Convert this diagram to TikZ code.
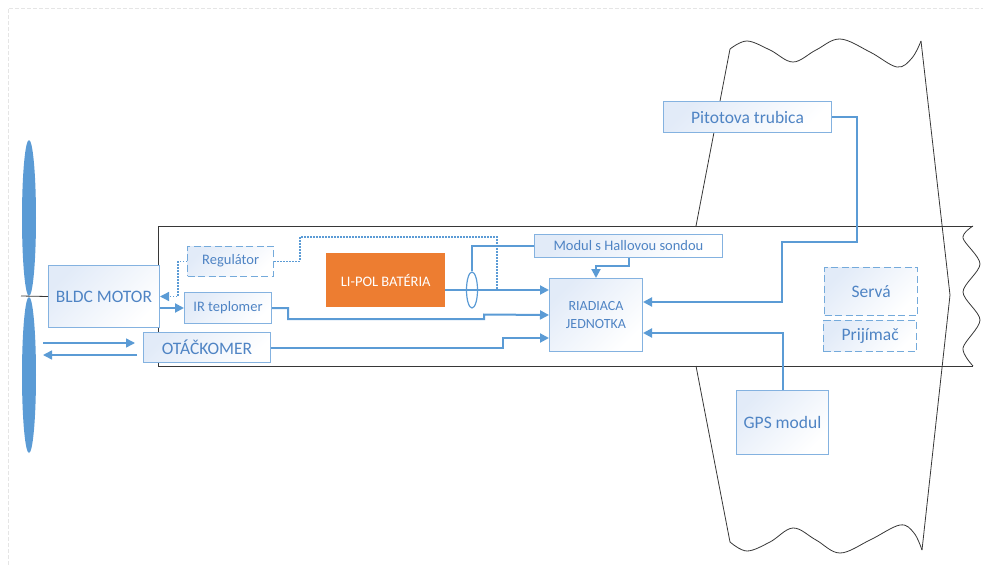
\documentclass[tikz,border=0pt]{standalone}
\usepackage{fontspec}
\setmainfont{Carlito}
\usetikzlibrary{arrows.meta,shapes.geometric}
\definecolor{linkblue}{RGB}{91,155,213}
\definecolor{textblue}{RGB}{79,132,196}
\definecolor{boxline}{RGB}{132,178,224}
\definecolor{boxfill}{RGB}{226,235,248}
\definecolor{batorange}{RGB}{237,125,49}
\definecolor{outline}{RGB}{55,55,55}

\begin{document}
\begin{tikzpicture}[x=1pt,y=-1pt,
    >={Triangle[length=9pt,width=9pt]},
    unit/.style={draw=boxline,line width=1pt,top color=boxfill,bottom color=white,
      shading angle=45,text=textblue,anchor=north west,inner sep=0pt,align=center},
    spare/.style={unit,draw=linkblue!85,dash pattern=on 7pt off 3.5pt,line width=1.3pt},
    big/.style={font=\fontsize{17.5}{20}\selectfont},
    small/.style={font=\fontsize{14.5}{18}\selectfont},
    sig/.style={draw=linkblue,line width=2pt},
    ctrl/.style={draw=linkblue,line width=1.3pt,dash pattern=on 1.5pt off 1.5pt},
    body/.style={draw=outline,line width=0.8pt}]
    \useasboundingbox (0,0) rectangle (983,565);
    \draw[gray!20,line width=0.8pt,dash pattern=on 4pt off 2pt] (8,565) -- (8,8) -- (983,8);

    % Wing
    \draw[body] plot[smooth,tension=0.6] coordinates {(730,49) (747,41) (770,50) (793,62)
        (816,50) (840,39) (870,52) (897,67) (912,58) (921,41)};
    \draw[body] (921,41) -- (950,295) -- (922,550);
    \draw[body] plot[smooth,tension=0.6] coordinates {(730,542) (747,551) (770,542) (793,528)
        (816,540) (840,553) (870,540) (900,525) (914,533) (922,550)};
    \draw[body] (730,49) -- (696,226);
    \draw[body] (696,366) -- (730,542);

    % Fuselage
    \draw[body] (973,226) -- (158,226) -- (158,366) -- (973,366);
    \draw[body] plot[smooth] coordinates {(973,226) (963,238) (980,264) (963,292)
        (980,320) (963,348) (973,366)};

    % Propeller
    \fill[linkblue] (29,218) ellipse [x radius=7, y radius=78];
    \fill[linkblue] (29,375) ellipse [x radius=7, y radius=78];

    % Main components
    \node[unit,big,minimum width=111,minimum height=62] (bldc) at (48,265) {BLDC MOTOR};
    \node[spare,small,minimum width=86,minimum height=30] (reg) at (187,245.5) {Regulátor};
    \node[unit,small,minimum width=87,minimum height=31] (ir) at (184,292) {IR teplomer};
    \node[unit,big,minimum width=127,minimum height=30] (otac) at (143,332) {OTÁČKOMER};
    \node[fill=batorange,text=white,small,anchor=north west,minimum width=119,
        minimum height=54] (bat) at (326,253) {LI-POL BATÉRIA};
    \node[draw=linkblue,line width=1.2pt,ellipse,minimum width=11,minimum height=36,
        inner sep=0pt] (clamp) at (472,290) {};
    \node[unit,small,minimum width=188,minimum height=23] (hall) at (534,234) {Modul s Hallovou sondou};
    \node[unit,font=\fontsize{14}{18}\selectfont,minimum width=93,minimum height=73] (riad)
        at (549,278) {RIADIACA\\JEDNOTKA};
    \node[unit,big,minimum width=168,minimum height=31] (pitot) at (663,101) {Pitotova trubica};
    \node[spare,big,minimum width=93,minimum height=48] (serva) at (824,267) {Servá};
    \node[spare,big,minimum width=93,minimum height=31] (prij) at (823,320) {Prijímač};
    \node[unit,big,minimum width=92,minimum height=64] (gps) at (736,390) {GPS modul};

    \draw[body] (21,296) -- (bldc.west);

    % Connections
    \coordinate (tap) at (497,290);
    \coordinate (spinA) at (43,343);
    \coordinate (revIn) at (135,343);
    \coordinate (revOut) at (137,355);
    \coordinate (spinB) at (43,355);
    \draw[sig,->] (bldc.east |- ir.west) -- (ir.west);
    \draw[ctrl,->] (reg.west) -- ++(-9,0) |- (bldc.east);
    \draw[ctrl] (reg.east) -| (300,237) -| (tap);
    \draw[sig,->] (bat.east |- clamp.center) -- (riad.west |- clamp.center);
    \draw[linkblue,line width=1.2pt] (hall.west) -| (clamp.north);
    \draw[sig,->] (hall.south) -- ++(0,8) -| (riad.north);
    \draw[sig,->] (ir.east) -| (288,319) -| (484,314.5) -- (riad.west);
    \draw[sig,->] (otac.east) -| (503,338) -- (riad.west |- 503,338);
    \draw[sig,->] (pitot.east) -| (857,242) -| (782,302) -- (riad.east |- 782,302);
    \draw[sig,->] (gps.north) |- (riad.east |- 782,333);
    \draw[sig,line width=1.5pt,->] (spinA) -- (revIn);
    \draw[sig,line width=1.5pt,->] (revOut) -- (spinB);
\end{tikzpicture}
\end{document}
